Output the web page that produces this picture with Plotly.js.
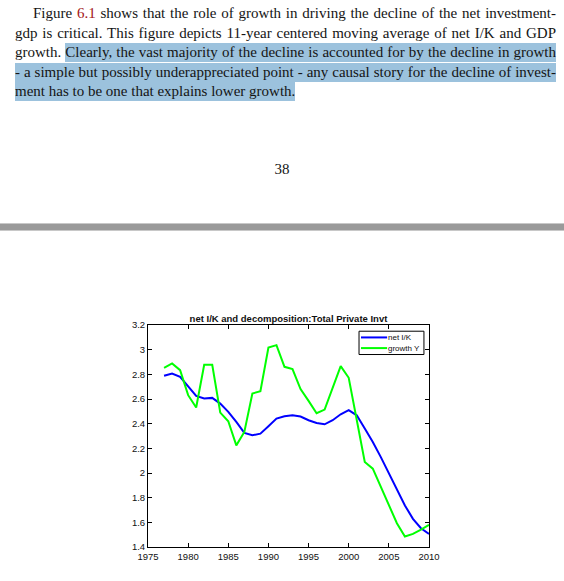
<!DOCTYPE html>
<html>
<head>
<meta charset="utf-8">
<script src="https://cdn.plot.ly/plotly-3.0.1.min.js"></script>
<style>
    html, body { margin: 0; padding: 0; background: white; }
    #page { position: relative; width: 564px; height: 581px; overflow: hidden; }
    #myDiv { position: absolute; left: 0; top: 0; width: 564px; height: 581px; }
    #para {
        position: absolute; left: 15px; top: 4px; width: 541px; z-index: 2;
        font-family: "Liberation Serif", "DejaVu Serif", serif;
        font-size: 15px; color: #141414;
    }
    #para div { height: 19.5px; line-height: 19.5px; text-align: justify; text-align-last: justify; }
    #para div.first { padding-left: 18px; }
    #para div.last { text-align: left; text-align-last: left; }
    .ref { color: #a31515; }
    .hl { background: #9cc2dd; padding: 1px 0 2px 0; }
    #pagenum {
        position: absolute; left: 0; width: 564px; top: 161px; text-align: center; z-index: 2;
        font-family: "Liberation Serif", serif; font-size: 15px; color: #141414;
    }
    #band {
        position: absolute; left: 0; width: 564px; top: 223px; height: 6px; z-index: 2;
        background: #9a9a9a; border-top: 1px solid #c8c8c8; border-bottom: 1px solid #c8c8c8;
    }
</style>
</head>
<body>
<div id="page">
    <div id="myDiv"></div>
    <div id="para">
        <div class="first">Figure <span class="ref">6.1</span> shows that the role of growth in driving the decline of the net investment-</div>
        <div>gdp is critical. This figure depicts 11-year centered moving average of net I/K and GDP</div>
        <div>growth. <span class="hl">Clearly, the vast majority of the decline is accounted for by the decline in growth</span></div>
        <div><span class="hl">- a simple but possibly underappreciated point - any causal story for the decline of invest-</span></div>
        <div class="last"><span class="hl">ment has to be one that explains lower growth.</span></div>
    </div>
    <div id="pagenum">38</div>
    <div id="band"></div>
</div>
<script>
// years of the 11-year centered moving average
const years = [];
for (let y = 1977; y <= 2010; y++) years.push(y);

// net I/K (blue)
const netIK = [
    2.788, 2.807, 2.78, 2.704, 2.625, 2.604, 2.609, 2.563, 2.496, 2.414, 2.325, 2.306,
    2.319, 2.379, 2.441, 2.46, 2.468, 2.458, 2.428, 2.406, 2.395, 2.428, 2.476, 2.509,
    2.468, 2.36, 2.251, 2.129, 1.994, 1.859, 1.737, 1.628, 1.552, 1.506,
];

// growth Y (green)
const growthY = [
    2.853, 2.888, 2.834, 2.631, 2.531, 2.877, 2.877, 2.49, 2.42, 2.224, 2.333, 2.645,
    2.663, 3.018, 3.037, 2.861, 2.842, 2.68, 2.585, 2.485, 2.514, 2.685, 2.867, 2.772,
    2.43, 2.089, 2.035, 1.891, 1.75, 1.593, 1.485, 1.506, 1.541, 1.58,
];

const seriesNames = ["net I/K", "growth Y"];
const seriesColors = ["#0000ff", "#00ff00"];

const xTicks = [1975, 1980, 1985, 1990, 1995, 2000, 2005, 2010];
const yTicks = [1.4, 1.6, 1.8, 2, 2.2, 2.4, 2.6, 2.8, 3, 3.2];

const font = "Liberation Sans, Arial, sans-serif";

const data = [netIK, growthY].map((vals, i) => ({
    type: "scatter", mode: "lines", name: seriesNames[i],
    x: years, y: vals,
    line: { color: seriesColors[i], width: 2 },
}));

const axisStyle = {
    showgrid: false,
    zeroline: false,
    showline: true,
    linecolor: "#000",
    linewidth: 1,
    mirror: "ticks",
    ticks: "inside",
    ticklen: 4,
    tickcolor: "#000",
    tickfont: { family: font, size: 9.5, color: "#111" },
};

// small matlab-style legend box, drawn in paper coords (plotly's own legend is too tall here)
const legBox = { x0: 0.751, x1: 0.982, y0: 0.867, y1: 0.972 };
const legRows = [0.944, 0.896];
const shapes = [
    { type: "rect", xref: "paper", yref: "paper", x0: legBox.x0, x1: legBox.x1, y0: legBox.y0, y1: legBox.y1,
      line: { color: "#000", width: 1 }, fillcolor: "white", layer: "above" },
];
const annotations = [];
legRows.forEach((ry, i) => {
    shapes.push({ type: "line", xref: "paper", yref: "paper", x0: 0.758, x1: 0.851, y0: ry, y1: ry,
        line: { color: seriesColors[i], width: 2 }, layer: "above" });
    annotations.push({ xref: "paper", yref: "paper", x: 0.852, y: ry, xanchor: "left", yanchor: "middle",
        text: seriesNames[i], showarrow: false, borderpad: 0,
        font: { family: font, size: 8, color: "#111" } });
});

const layout = {
    width: 564,
    height: 581,
    margin: { l: 148, r: 135, t: 325, b: 34 },
    paper_bgcolor: "white",
    plot_bgcolor: "white",
    showlegend: false,
    title: {
        text: "<b>net I/K and decomposition:Total Private Invt</b>",
        font: { family: font, size: 9.5, color: "#111" },
        x: 0.5, xref: "paper", xanchor: "center",
        y: 1, yref: "paper", yanchor: "bottom",
        pad: { b: 3 },
    },
    xaxis: Object.assign({}, axisStyle, {
        range: [1975, 2010],
        tickmode: "array",
        tickvals: xTicks,
        ticklabelstandoff: 1,
    }),
    yaxis: Object.assign({}, axisStyle, {
        range: [1.4, 3.2],
        tickmode: "array",
        tickvals: yTicks,
    }),
    shapes: shapes,
    annotations: annotations,
};

Plotly.newPlot("myDiv", data, layout, { displayModeBar: false, staticPlot: true });
</script>
</body>
</html>
